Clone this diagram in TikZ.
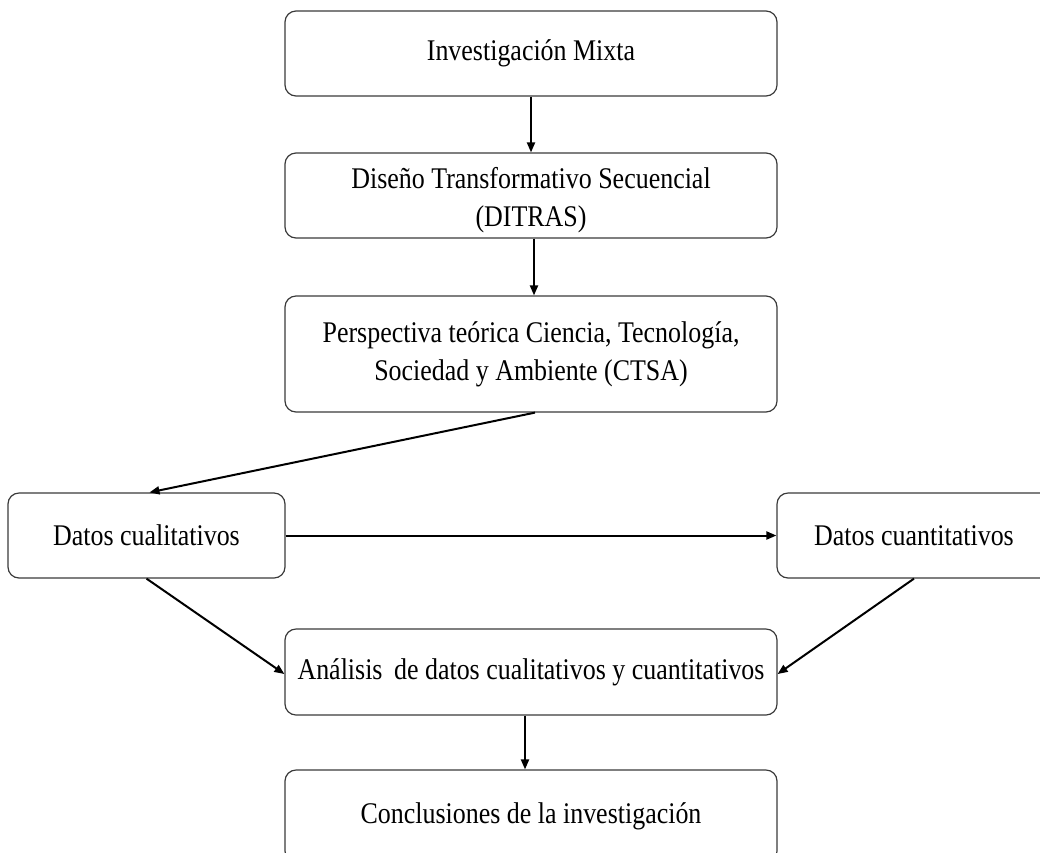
\documentclass[tikz,border=0pt]{standalone}
\usepackage{fontspec}
\setmainfont[FakeStretch=0.865]{Liberation Serif}
\usetikzlibrary{arrows.meta}
\definecolor{boxline}{HTML}{3A3A3A}
\tikzset{
  flowbox/.style={draw=boxline, line width=1.2pt, rounded corners=11pt, inner sep=0pt,
    align=center, font=\fontsize{30}{38}\selectfont, text=black},
  flowarrow/.style={draw=black, line width=2pt, -{Triangle[length=10pt,width=8pt]}}
}
\begin{document}
\begin{tikzpicture}[x=1pt,y=-1pt]
\useasboundingbox (0,0) rectangle (1040,852);
\node[flowbox, minimum width=492pt, minimum height=85pt] (b1) at (531,53.5) {Investigación Mixta};
\node[flowbox, minimum width=492pt, minimum height=85pt] (b2) at (531,195.5) {\rule{0pt}{30pt}Diseño Transformativo Secuencial\\(DITRAS)};
\node[flowbox, minimum width=492pt, minimum height=116pt] (b3) at (531,354) {Perspectiva teórica Ciencia, Tecnología,\\Sociedad y Ambiente (CTSA)};
\node[flowbox, minimum width=277pt, minimum height=85pt] (b4) at (146.5,535.5) {Datos cualitativos};
\node[flowbox, minimum width=274pt, minimum height=85pt] (b5) at (914,535.5) {Datos cuantitativos};
\node[flowbox, minimum width=492pt, minimum height=86pt] (b6) at (531,672) {Análisis\hspace{5pt} de datos cualitativos y cuantitativos};
\node[flowbox, minimum width=492pt, minimum height=92pt] (b7) at (531,816) {Conclusiones de la investigación};
\draw[flowarrow] (b1.south) -- (b2.north);
\draw[flowarrow] ([xshift=3pt]b2.south) -- ([xshift=3pt]b3.north);
\draw[flowarrow] ([xshift=4pt]b3.south) -- ([xshift=3pt]b4.north);
\draw[flowarrow] (b4.east) -- (b5.west);
\draw[flowarrow] (b4.south) -- ([yshift=-2pt]b6.west);
\draw[flowarrow] (b5.south) -- ([yshift=-2pt]b6.east);
\draw[flowarrow] ([xshift=-6pt]b6.south) -- ([xshift=-6pt]b7.north);
\end{tikzpicture}
\end{document}
